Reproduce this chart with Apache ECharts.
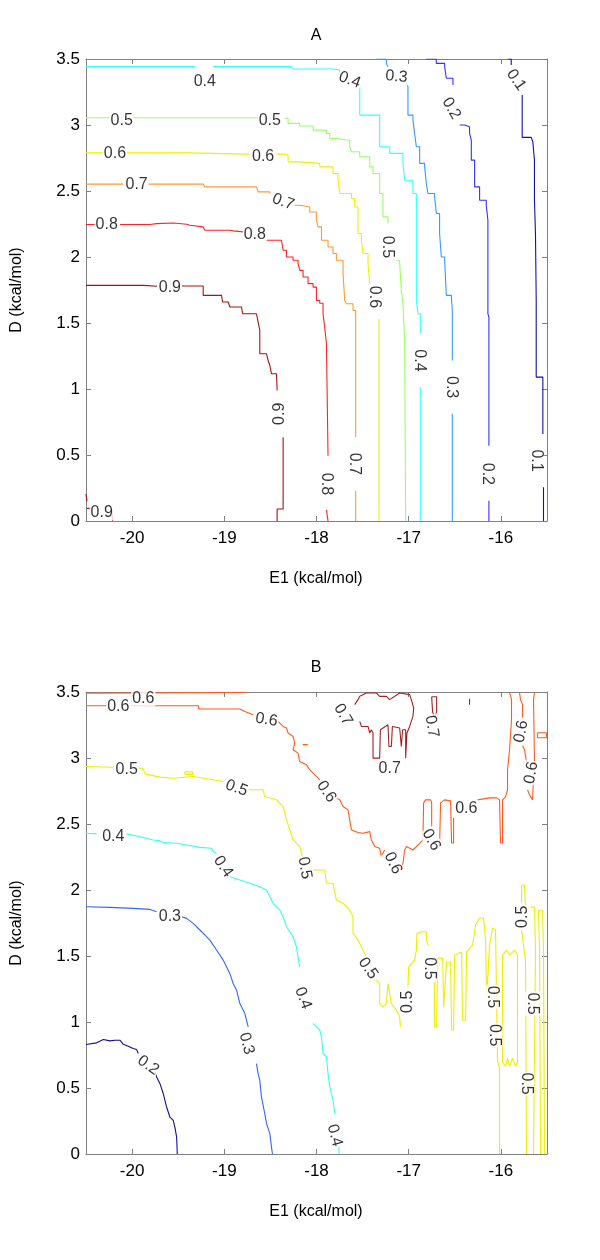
<!DOCTYPE html>
<html><head><meta charset="utf-8">
<script src="https://cdn.jsdelivr.net/npm/echarts@6/dist/echarts.min.js"></script>
<style>html,body{margin:0;padding:0;background:#fff}#c{width:600px;height:1260px}</style>
</head><body><div id="c"></div>
<script>
// ---- axes ----
const xTicks = [-20, -19, -18, -17, -16];
const yTicks = [0, 0.5, 1, 1.5, 2, 2.5, 3, 3.5];

// ---- Panel A contour lines (each entry = list of polyline pieces) ----
const A_c01 = [
 [[-15.925,3.5],[-15.888,3.454]],
 [[-15.769,3.227],[-15.769,2.906],[-15.671,2.906],[-15.654,2.873],[-15.636,2.734],[-15.636,2.430],[-15.625,2.178],[-15.617,1.671],[-15.617,1.090],[-15.545,1.090],[-15.545,0.660]],
 [[-15.538,0.255],[-15.538,0]]
];
const A_c02 = [
 [[-16.809,3.5],[-16.701,3.467],[-16.610,3.442],[-16.592,3.354],[-16.520,3.303]],
 [[-16.448,3.0],[-16.394,2.986],[-16.340,2.936],[-16.321,2.885],[-16.321,2.734],[-16.285,2.658],[-16.285,2.531],[-16.231,2.430],[-16.159,2.392],[-16.141,2.278],[-16.141,1.570],[-16.130,1.545],[-16.130,0.571]],
 [[-16.130,0.154],[-16.130,0]]
];
const A_c03 = [
 [[-17.350,3.5],[-17.242,3.467],[-17.225,3.442]],
 [[-17.025,3.316],[-17.008,3.290],[-17.008,3.075],[-16.954,3.037],[-16.936,2.936],[-16.917,2.835],[-16.881,2.785],[-16.881,2.709],[-16.827,2.683],[-16.809,2.557],[-16.791,2.481],[-16.719,2.455],[-16.700,2.329],[-16.665,2.178],[-16.646,2.0],[-16.610,1.975],[-16.592,1.709],[-16.538,1.697],[-16.527,1.596],[-16.527,1.216]],
 [[-16.527,0.812],[-16.527,0]]
];
const A_c04 = [
 [[-20.5,3.442],[-19.319,3.442]],
 [[-19.121,3.442],[-18.271,3.442],[-18.254,3.424],[-17.821,3.417],[-17.748,3.379]],
 [[-17.531,3.290],[-17.531,3.075],[-17.315,3.012],[-17.315,2.835],[-17.206,2.785],[-17.062,2.709],[-17.044,2.582],[-16.954,2.481],[-16.917,2.026],[-16.917,1.671],[-16.899,1.570],[-16.874,1.545],[-16.874,1.419]],
 [[-16.874,1.014],[-16.874,0]]
];
const A_c05 = [
 [[-20.5,3.055],[-20.240,3.055]],
 [[-19.988,3.055],[-18.615,3.055]],
 [[-18.344,3.050],[-18.308,3.012],[-18.181,2.992],[-18.037,2.961],[-17.892,2.936],[-17.856,2.898],[-17.784,2.885],[-17.640,2.835],[-17.621,2.797],[-17.531,2.759],[-17.423,2.683],[-17.387,2.633],[-17.315,2.481],[-17.279,2.304],[-17.225,2.278],[-17.225,2.253]],
 [[-17.134,1.975],[-17.098,1.950],[-17.080,1.75],[-17.062,1.65],[-17.044,1.368],[-17.033,0]]
];
const A_c06 = [
 [[-20.5,2.789],[-20.313,2.789]],
 [[-20.059,2.789],[-19.446,2.789],[-19.409,2.779],[-18.723,2.779]],
 [[-18.434,2.779],[-18.344,2.772],[-18.308,2.721],[-18.181,2.709],[-17.965,2.683],[-17.821,2.633],[-17.766,2.582],[-17.748,2.481],[-17.621,2.443],[-17.586,2.379],[-17.550,2.178],[-17.513,2.127],[-17.496,2.026],[-17.441,1.950],[-17.423,1.798]],
 [[-17.322,1.533],[-17.322,0]]
];
const A_c07 = [
 [[-20.5,2.552],[-20.096,2.552]],
 [[-19.825,2.552],[-19.229,2.552],[-19.211,2.531],[-18.651,2.519],[-18.633,2.493],[-18.506,2.481]],
 [[-18.254,2.392],[-18.181,2.379],[-18.073,2.341],[-18.001,2.278],[-17.983,2.228],[-17.946,2.127],[-17.875,2.076],[-17.821,2.026],[-17.784,1.975],[-17.712,1.874],[-17.694,1.671],[-17.676,1.646],[-17.604,1.596],[-17.575,1.558],[-17.575,0.634]],
 [[-17.575,0.230],[-17.575,0]]
];
const A_c08 = [
 [[-20.5,2.246],[-20.384,2.246]],
 [[-20.132,2.246],[-19.807,2.253],[-19.734,2.258],[-19.554,2.248],[-19.409,2.240],[-19.373,2.228],[-19.229,2.228],[-19.211,2.203],[-18.940,2.198],[-18.904,2.190],[-18.796,2.190]],
 [[-18.561,2.127],[-18.380,2.114],[-18.362,2.051],[-18.326,2.0],[-18.254,1.975],[-18.200,1.950],[-18.181,1.899],[-18.146,1.848],[-18.092,1.798],[-18.037,1.772],[-18.001,1.671],[-17.965,1.65],[-17.929,1.570],[-17.911,1.469],[-17.892,1.343],[-17.875,1.330],[-17.875,0.495]],
 [[-17.892,0.083],[-17.875,0.068],[-17.875,0]]
];
const A_c09 = [
 [[-20.5,1.785],[-19.915,1.785],[-19.879,1.778],[-19.734,1.785]],
 [[-19.463,1.780],[-19.229,1.780],[-19.229,1.709],[-19.030,1.702],[-19.019,1.659],[-18.958,1.646],[-18.940,1.621],[-18.813,1.616],[-18.802,1.570],[-18.651,1.565],[-18.633,1.507],[-18.615,1.444],[-18.615,1.267],[-18.542,1.267],[-18.525,1.216],[-18.506,1.178],[-18.488,1.115],[-18.434,1.108],[-18.427,0.989]],
 [[-18.362,0.634],[-18.362,0.091],[-18.427,0.091],[-18.427,0]],
 [[-20.5,0.205],[-20.49,0.15]],
 [[-20.49,0.096],[-20.438,0.091]],
 [[-20.222,0.078],[-20.211,0]]
];
const A_levels = ['0.1','0.2','0.3','0.4','0.5','0.6','0.7','0.8','0.9'];
const A_lines = [A_c01, A_c02, A_c03, A_c04, A_c05, A_c06, A_c07, A_c08, A_c09];
// [x, y, text, angle]
const A_labels = [
 [-19.211,3.328,'0.4',0],[-17.640,3.341,'0.4',-20],[-16.881,1.216,'0.4',-90],
 [-17.134,3.366,'0.3',-5],[-16.538,1.014,'0.3',-90],
 [-15.834,3.341,'0.1',-55],[-15.617,0.458,'0.1',-90],
 [-16.538,3.126,'0.2',-60],[-16.141,0.357,'0.2',-90],
 [-20.113,3.037,'0.5',0],[-18.507,3.037,'0.5',0],[-17.236,2.076,'0.5',-90],
 [-20.186,2.785,'0.6',0],[-18.579,2.759,'0.6',0],[-17.369,1.697,'0.6',-90],
 [-19.951,2.549,'0.7',0],[-18.362,2.417,'0.7',-20],[-17.586,0.432,'0.7',-90],
 [-20.276,2.246,'0.8',0],[-18.669,2.170,'0.8',0],[-17.892,0.281,'0.8',-90],
 [-19.590,1.765,'0.9',0],[-18.398,0.812,'0.9',90],[-20.330,0.065,'0.9',0]
];

// ---- Panel B contour lines ----
const B_c02 = [
 [[-20.5,0.829],[-20.384,0.842],[-20.312,0.867],[-20.24,0.857],[-20.186,0.862],[-20.132,0.862],[-20.096,0.831],[-20.042,0.816],[-19.988,0.799],[-19.951,0.791],[-19.933,0.761]],
 [[-19.752,0.622],[-19.734,0.584],[-19.698,0.533],[-19.662,0.458],[-19.644,0.407],[-19.626,0.356],[-19.59,0.280],[-19.554,0.255],[-19.536,0.204],[-19.517,0.128],[-19.51,0]]
];
const B_c03 = [
 [[-20.5,1.873],[-20.24,1.868],[-19.988,1.861],[-19.807,1.853],[-19.734,1.835]],
 [[-19.463,1.797],[-19.409,1.785],[-19.337,1.747],[-19.265,1.697],[-19.193,1.646],[-19.157,1.620],[-19.084,1.545],[-19.012,1.469],[-18.976,1.418],[-18.940,1.368],[-18.904,1.292],[-18.867,1.241],[-18.849,1.19],[-18.831,1.14],[-18.777,1.064],[-18.741,0.963]],
 [[-18.651,0.685],[-18.633,0.609],[-18.615,0.558],[-18.597,0.432],[-18.561,0.306],[-18.542,0.230],[-18.506,0.154],[-18.488,0.052],[-18.478,0]]
];
const B_c04 = [
 [[-20.5,2.430],[-20.384,2.425]],
 [[-20.059,2.425],[-19.915,2.404],[-19.771,2.379],[-19.698,2.374],[-19.662,2.359],[-19.517,2.354],[-19.409,2.341],[-19.265,2.323],[-19.138,2.316],[-19.121,2.291],[-19.084,2.278]],
 [[-18.940,2.101],[-18.831,2.076],[-18.723,2.051],[-18.615,2.025],[-18.542,2.0],[-18.471,1.899],[-18.398,1.848],[-18.362,1.797],[-18.326,1.722],[-18.254,1.646],[-18.218,1.570],[-18.182,1.416]],
 [[-18.037,0.989],[-17.965,0.938],[-17.946,0.887],[-17.929,0.761],[-17.892,0.735],[-17.875,0.609],[-17.856,0.508],[-17.820,0.407],[-17.802,0.306]],
 [[-17.756,0.065],[-17.756,0]]
];
const B_c05 = [
 [[-20.5,2.936],[-20.204,2.93]],
 [[-19.933,2.923],[-19.88,2.92],[-19.86,2.88],[-19.70,2.855],[-19.554,2.847],[-19.337,2.860],[-19.121,2.835],[-19.012,2.822]],
 [[-19.427,2.895],[-19.344,2.895],[-19.344,2.876],[-19.427,2.876],[-19.427,2.895]],
 [[-18.742,2.759],[-18.579,2.759],[-18.561,2.708],[-18.434,2.683],[-18.362,2.632],[-18.326,2.531],[-18.290,2.455],[-18.254,2.379],[-18.218,2.354],[-18.182,2.329],[-18.163,2.278],[-18.146,2.240]],
 [[-18.037,2.152],[-17.911,2.152],[-17.892,2.051],[-17.821,2.051],[-17.784,1.924],[-17.712,1.899],[-17.640,1.848],[-17.604,1.797],[-17.604,1.671],[-17.550,1.621],[-17.496,1.545],[-17.459,1.494]],
 [[-17.350,1.317],[-17.315,1.292],[-17.315,1.140],[-17.279,1.115],[-17.242,1.140],[-17.225,1.292],[-17.206,1.304],[-17.188,1.140],[-17.134,1.090],[-17.098,1.039],[-17.090,0.963]],
 [[-17.008,1.27],[-17.0,1.418],[-16.968,1.444],[-16.936,1.469],[-16.917,1.545],[-16.911,1.671],[-16.863,1.684],[-16.809,1.684],[-16.803,1.608],[-16.785,1.58]],
 [[-16.719,1.302],[-16.719,0.961],[-16.697,0.961],[-16.686,1.484],[-16.632,1.484],[-16.621,1.112],[-16.600,1.112],[-16.589,1.454],[-16.546,1.454],[-16.535,0.939],[-16.513,0.939],[-16.502,1.507],[-16.426,1.530],[-16.416,1.014],[-16.383,1.014],[-16.372,1.530],[-16.307,1.583],[-16.275,1.735],[-16.231,1.788],[-16.188,1.788],[-16.166,1.621],[-16.155,1.188],[-16.134,1.188],[-16.123,1.583],[-16.090,1.712],[-16.058,1.697],[-16.047,1.165],[-16.036,0.710],[-16.015,0.649],[-16.015,0]],
 [[-15.982,1.507],[-15.982,0.695],[-15.950,0.664],[-15.928,0.725],[-15.906,0.664],[-15.874,0.725],[-15.842,0.664],[-15.820,0.695],[-15.820,1.507],[-15.853,1.545],[-15.906,1.507],[-15.939,1.545],[-15.982,1.507]],
 [[-15.776,2.038],[-15.776,1.901]],
 [[-15.776,1.697],[-15.755,1.583],[-15.733,1.469],[-15.722,0]],
 [[-15.776,2.038],[-15.744,2.038],[-15.733,1.870],[-15.636,1.870],[-15.625,1.545],[-15.646,0]],
 [[-15.570,0],[-15.581,1.545],[-15.592,1.847],[-15.549,1.847],[-15.538,1.545],[-15.527,0]]
];
const B_c06 = [
 [[-20.5,3.49],[-18.777,3.497]],
 [[-20.5,3.396],[-20.276,3.396]],
 [[-20.005,3.396],[-19.283,3.396],[-19.276,3.371],[-18.832,3.371],[-18.777,3.353],[-18.687,3.328]],
 [[-18.417,3.277],[-18.362,3.239],[-18.326,3.227],[-18.308,3.189],[-18.254,3.163],[-18.236,3.113],[-18.254,3.062],[-18.200,3.037],[-18.182,2.973],[-18.109,2.948],[-18.073,2.910],[-18.001,2.860],[-17.965,2.835]],
 [[-17.821,2.708],[-17.748,2.683],[-17.712,2.632],[-17.658,2.607],[-17.640,2.531],[-17.621,2.455],[-17.550,2.435],[-17.496,2.430],[-17.423,2.442],[-17.405,2.379],[-17.369,2.329],[-17.315,2.316],[-17.297,2.253],[-17.261,2.303]],
 [[-17.098,2.177],[-17.080,2.152],[-17.062,2.203],[-17.044,2.303],[-17.025,2.329],[-16.954,2.303],[-16.881,2.354],[-16.846,2.379],[-16.838,2.660],[-16.817,2.683],[-16.762,2.683],[-16.751,2.660],[-16.751,2.470]],
 [[-16.665,2.341],[-16.654,2.660],[-16.610,2.683],[-16.546,2.675],[-16.535,2.356],[-16.513,2.356],[-16.513,2.546]],
 [[-16.253,2.683],[-16.123,2.698],[-16.047,2.698],[-16.015,2.683],[-16.004,2.356],[-15.982,2.356],[-15.982,2.683],[-15.950,2.706],[-15.928,2.759],[-15.928,2.910],[-15.906,3.062],[-15.885,3.290],[-15.885,3.442],[-15.906,3.495]],
 [[-15.798,3.495],[-15.787,3.442],[-15.765,3.404],[-15.765,3.305]],
 [[-15.765,3.093],[-15.744,3.062],[-15.722,2.971]],
 [[-15.711,2.759],[-15.690,2.721],[-15.657,2.683],[-15.636,2.675],[-15.636,2.986],[-15.646,3.442],[-15.636,3.495]],
 [[-15.603,3.191],[-15.505,3.191],[-15.505,3.153],[-15.603,3.153],[-15.603,3.191]],
 [[-18.149,3.101],[-18.095,3.101]]
];
const B_c07 = [
 [[-17.531,3.277],[-17.513,3.239],[-17.441,3.239],[-17.423,3.189],[-17.405,3.214],[-17.387,3.189],[-17.387,2.999],[-17.315,2.999],[-17.307,3.214],[-17.225,3.252],[-17.214,3.087],[-17.188,3.087],[-17.177,3.239],[-17.098,3.227],[-17.080,3.087],[-17.066,3.214],[-17.033,3.214],[-17.033,2.999],[-17.019,2.999],[-17.019,3.189],[-16.990,3.239],[-16.954,3.315],[-16.946,3.379],[-16.972,3.442],[-16.990,3.480],[-17.098,3.492],[-17.206,3.442],[-17.242,3.467],[-17.315,3.467],[-17.350,3.492],[-17.459,3.492],[-17.531,3.467],[-17.550,3.442],[-17.586,3.404]],
 [[-16.751,3.464],[-16.697,3.464],[-16.697,3.351],[-16.719,3.305],[-16.741,3.351],[-16.751,3.464]],
 [[-16.340,3.449],[-16.340,3.404]]
];
const B_levels = ['0.2','0.3','0.4','0.5','0.6','0.7'];
const B_lines = [B_c02, B_c03, B_c04, B_c05, B_c06, B_c07];
const B_labels = [
 [-19.825,0.672,'0.2',-35],
 [-19.590,1.797,'0.3',0],[-18.759,0.837,'0.3',-75],
 [-20.204,2.404,'0.4',0],[-19.012,2.177,'0.4',-55],[-18.146,1.181,'0.4',-70],[-17.802,0.141,'0.4',-75],
 [-20.059,2.910,'0.5',0],[-18.867,2.772,'0.5',-20],[-18.127,2.167,'0.5',-80],[-17.441,1.406,'0.5',-55],[-17.008,1.153,'0.5',90],[-16.773,1.406,'0.5',-90],[-16.087,1.190,'0.5',-90],[-16.069,0.900,'0.5',-90],[-15.762,1.797,'0.5',90],[-15.654,1.140,'0.5',-90],[-15.725,0.533,'0.5',-90],
 [-19.879,3.449,'0.6',0],[-20.150,3.391,'0.6',0],[-18.542,3.290,'0.6',-10],[-17.892,2.746,'0.6',-55],[-17.171,2.203,'0.6',-65],[-16.755,2.379,'0.6',-60],[-16.375,2.620,'0.6',0],[-15.780,3.201,'0.6',80],[-15.671,2.888,'0.6',80],
 [-17.712,3.328,'0.7',-60],[-16.751,3.239,'0.7',-80],[-17.206,2.923,'0.7',0]
];

// ---- styles ----
const A_colors = ['#1010b0','#3030ff','#3399ff','#33ffff','#99ff66','#f0f000','#ff9933','#ff2222','#aa1111'];
const B_colors = ['#10108f','#3366ff','#33ffee','#eeee00','#ff5a1e','#a52020'];
const FONT = '"Liberation Sans", Arial, sans-serif';
const AX = '#808080';

const grids = [
 {left: 86, top: 59, width: 461, height: 462},
 {left: 86, top: 692, width: 461, height: 462}
];
const xAxes = [], yAxes = [];
grids.forEach((g, gi) => {
  ['bottom','top'].forEach((pos, k) => xAxes.push({
    gridIndex: gi, type: 'value', min: -20.5, max: -15.5, position: pos,
    axisLine: {onZero: false, lineStyle: {color: AX, width: 1}},
    axisTick: {show: true, inside: true, length: 5, customValues: xTicks, lineStyle: {color: AX}},
    axisLabel: {show: k === 0, customValues: xTicks, color: '#000', fontSize: 17, fontFamily: FONT, margin: 9},
    splitLine: {show: false}
  }));
  ['left','right'].forEach((pos, k) => yAxes.push({
    gridIndex: gi, type: 'value', min: 0, max: 3.5, interval: 0.5, position: pos,
    axisLine: {onZero: false, show: true, lineStyle: {color: AX, width: 1}},
    axisTick: {show: true, inside: true, length: 5, lineStyle: {color: AX}},
    axisLabel: {show: k === 0, color: '#000', fontSize: 17, fontFamily: FONT, margin: 6},
    splitLine: {show: false}
  }));
});

const series = [];
function addPanel(lines, colors, labels, gi, stepMode) {
  lines.forEach((pieces, li) => {
    pieces.forEach(p => series.push({
      type: 'line', xAxisIndex: gi * 2, yAxisIndex: gi * 2, data: p, step: stepMode,
      symbol: 'none', showSymbol: false, silent: true, animation: false, z: 2,
      lineStyle: {color: colors[li], width: 1.1}
    }));
  });
  series.push({
    type: 'scatter', xAxisIndex: gi * 2, yAxisIndex: gi * 2, z: 5, silent: true, animation: false,
    symbolSize: 1, itemStyle: {color: 'rgba(0,0,0,0)'},
    data: labels.map(l => ({name: l[2], value: [l[0], l[1]], label: {rotate: l[3]}})),
    label: {show: true, position: 'inside', formatter: '{b}', color: '#000', fontSize: 16, fontFamily: FONT,
            backgroundColor: '#fff', padding: [0, 1]}
  });
}
addPanel(A_lines, A_colors, A_labels, 0, 'end');
addPanel(B_lines, B_colors, B_labels, 1, false);

const txt = (t, x, y, rot) => ({type: 'text', x, y, rotation: rot || 0,
  style: {text: t, fill: '#000', font: '16px ' + FONT, textAlign: 'center', textVerticalAlign: 'middle'}});

const chart = echarts.init(document.getElementById('c'), null, {renderer: 'canvas'});
chart.setOption({
  animation: false,
  backgroundColor: '#fff',
  grid: grids,
  xAxis: xAxes,
  yAxis: yAxes,
  series,
  graphic: [
    txt('A', 316, 36), txt('B', 316, 668),
    txt('E1 (kcal/mol)', 316, 579), txt('E1 (kcal/mol)', 316, 1212),
    txt('D (kcal/mol)', 17, 290, Math.PI / 2), txt('D (kcal/mol)', 17, 923, Math.PI / 2)
  ]
});
</script></body></html>
